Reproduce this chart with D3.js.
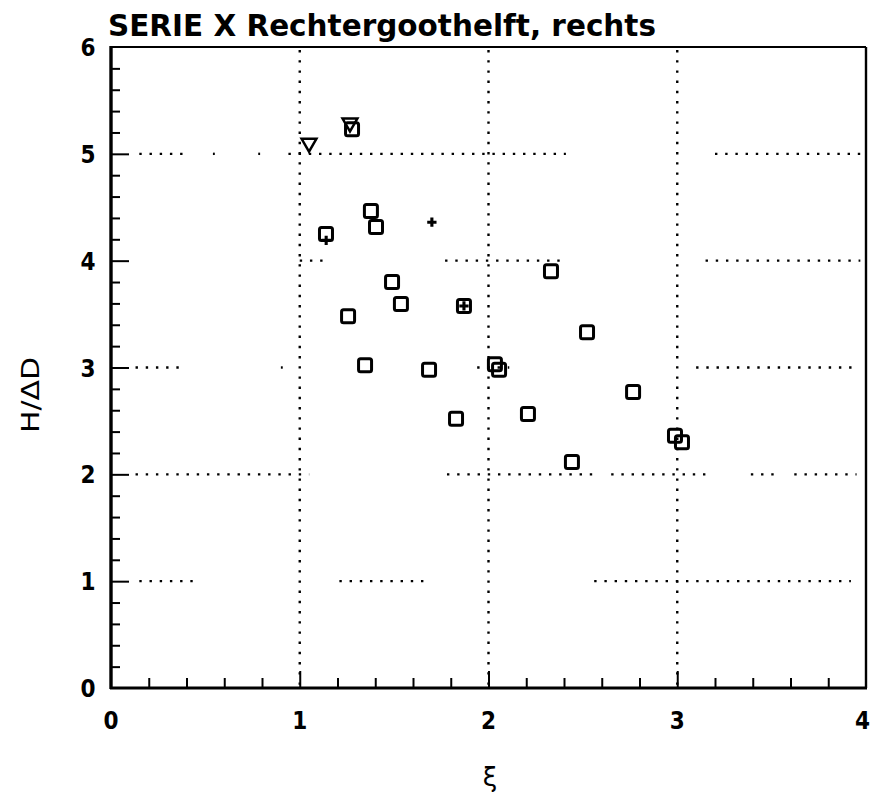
<!DOCTYPE html>
<html>
<head>
<meta charset="utf-8">
<script src="https://cdn.jsdelivr.net/npm/d3@7/dist/d3.min.js"></script>
<style>
  body { margin: 0; background: #fff; }
  svg { display: block; }
  text { fill: #000; font-family: "DejaVu Sans", sans-serif; }
</style>
</head>
<body>
<svg id="chart" width="871" height="797"></svg>
<script>
// Measurements: xi against H/ΔD
const squareX = [1.139, 1.377, 1.404, 1.277, 1.489, 1.536, 1.870, 1.256, 1.346, 1.685, 1.828,
                 2.331, 2.522, 2.034, 2.056, 2.209, 2.442, 2.766, 2.988, 3.025];
const squareY = [4.25, 4.465, 4.315, 5.23, 3.80, 3.595, 3.576, 3.48, 3.02, 2.98, 2.52,
                 3.90, 3.33, 3.03, 2.98, 2.565, 2.115, 2.77, 2.36, 2.30];
const triangleX = [1.049, 1.266];
const triangleY = [5.10, 5.29];
const plusX = [1.14, 1.70, 1.87];
const plusY = [4.19, 4.36, 3.576];

const xTicks = [0, 1, 2, 3, 4];
const yTicks = [0, 1, 2, 3, 4, 5, 6];

// Horizontal dotted grid pieces: [y, xFrom, xTo]
const hGrid = [
  [5, 0.15, 0.40], [5, 0.54, 0.55], [5, 0.78, 0.79], [5, 0.94, 2.41], [5, 3.20, 3.97],
  [4, 1.00, 1.15], [4, 1.77, 2.38], [4, 3.15, 3.97],
  [3, 0.13, 0.39], [3, 0.90, 0.91], [3, 1.94, 2.11], [3, 3.10, 3.95],
  [2, 0.13, 1.05], [2, 1.78, 2.56], [2, 2.65, 3.17], [2, 3.39, 3.52], [2, 3.62, 3.95],
  [1, 0.15, 0.45], [1, 1.21, 1.69], [1, 2.56, 3.92]
];
const vGrid = [1, 2, 3];

const title = "SERIE X Rechtergoothelft, rechts";
const xLabel = "ξ";
const yLabel = "H/ΔD";

const svg = d3.select("#chart");
const plotLeft = 111, plotRight = 866, plotTop = 47, plotBottom = 688;

const x = d3.scaleLinear().domain([0, 4]).range([plotLeft, plotRight]);
const y = d3.scaleLinear().domain([0, 6]).range([plotBottom, plotTop]);

// dotted grid
const grid = svg.append("g")
  .attr("stroke", "#000").attr("stroke-width", 2.4)
  .attr("stroke-dasharray", "2.4 7.8").attr("fill", "none");
grid.selectAll("line.v").data(vGrid).join("line")
  .attr("class", "v")
  .attr("x1", d => x(d)).attr("x2", d => x(d))
  .attr("y1", y(6) + 3).attr("y2", y(0));
grid.selectAll("line.h").data(hGrid).join("line")
  .attr("class", "h")
  .attr("x1", d => x(d[1])).attr("x2", d => x(d[2]))
  .attr("y1", d => y(d[0])).attr("y2", d => y(d[0]));

// axes with inward ticks
const xMinor = d3.range(0.2, 4, 0.2).filter(v => Math.abs(v - Math.round(v)) > 1e-6);
const yMinor = d3.range(0.2, 6, 0.2).filter(v => Math.abs(v - Math.round(v)) > 1e-6);

svg.append("g").attr("transform", `translate(0,${plotBottom})`)
  .call(d3.axisTop(x).tickValues(xMinor).tickSize(10).tickFormat(""))
  .call(g => g.select(".domain").remove())
  .selectAll("line").attr("stroke-width", 2);
svg.append("g").attr("transform", `translate(0,${plotBottom})`)
  .call(d3.axisTop(x).tickValues([1, 2, 3]).tickSize(17).tickFormat(""))
  .call(g => g.select(".domain").remove())
  .selectAll("line").attr("stroke-width", 2);

svg.append("g").attr("transform", `translate(${plotLeft},0)`)
  .call(d3.axisRight(y).tickValues(yMinor).tickSize(9).tickFormat(""))
  .call(g => g.select(".domain").remove())
  .selectAll("line").attr("stroke-width", 2);
svg.append("g").attr("transform", `translate(${plotLeft},0)`)
  .call(d3.axisRight(y).tickValues([1, 2, 3, 4, 5]).tickSize(18).tickFormat(""))
  .call(g => g.select(".domain").remove())
  .selectAll("line").attr("stroke-width", 2);

// frame
const frame = svg.append("g").attr("stroke", "#000").attr("fill", "none");
frame.append("line").attr("x1", plotLeft).attr("x2", plotRight).attr("y1", plotTop).attr("y2", plotTop).attr("stroke-width", 2);
frame.append("line").attr("x1", plotRight).attr("x2", plotRight).attr("y1", plotTop).attr("y2", plotBottom).attr("stroke-width", 2.4);
frame.append("line").attr("x1", plotLeft - 1).attr("x2", plotRight + 1).attr("y1", plotBottom).attr("y2", plotBottom).attr("stroke-width", 2.8);
frame.append("line").attr("x1", plotLeft).attr("x2", plotLeft).attr("y1", plotTop - 1).attr("y2", plotBottom + 1).attr("stroke-width", 3.4);

// tick labels (the last x label is kept inside the page edge)
const labelFont = g => g.attr("font-size", 24).attr("font-weight", "bold")
  .attr("font-stretch", "condensed");
svg.append("g").call(labelFont).selectAll("text").data(xTicks).join("text")
  .attr("text-anchor", d => d === 4 ? "end" : "middle")
  .attr("x", d => d === 4 ? Math.min(x(d) + 6, 870) : x(d))
  .attr("y", 729).text(d => d);
svg.append("g").call(labelFont).attr("text-anchor", "middle")
  .selectAll("text").data(yTicks).join("text")
  .attr("x", 88).attr("y", d => y(d) + 9).text(d => d);

// titles
svg.append("text").attr("x", 108).attr("y", 36)
  .attr("font-size", 30).attr("font-weight", 600)
  .attr("textLength", 548).attr("lengthAdjust", "spacingAndGlyphs")
  .text(title);
svg.append("text").attr("x", 490).attr("y", 786).attr("text-anchor", "middle")
  .attr("font-size", 26).text(xLabel);
svg.append("text").attr("transform", "translate(39,395) rotate(-90)")
  .attr("text-anchor", "middle").attr("font-size", 24)
  .attr("textLength", 76).attr("lengthAdjust", "spacingAndGlyphs")
  .text(yLabel);

// markers
const marks = svg.append("g").attr("stroke", "#000").attr("fill", "none");
const sq = 13;
marks.selectAll("rect").data(d3.range(squareX.length)).join("rect")
  .attr("x", i => x(squareX[i]) - sq / 2).attr("y", i => y(squareY[i]) - sq / 2)
  .attr("width", sq).attr("height", sq).attr("rx", 2)
  .attr("stroke-width", 3);

const tri = d3.symbol().type(d3.symbolTriangle).size(95);
marks.selectAll("path.tri").data(d3.range(triangleX.length)).join("path")
  .attr("class", "tri")
  .attr("d", tri)
  .attr("transform", i => `translate(${x(triangleX[i])},${y(triangleY[i])}) rotate(180)`)
  .attr("stroke-width", 2.5);

marks.selectAll("path.plus").data(d3.range(plusX.length)).join("path")
  .attr("class", "plus")
  .attr("d", d3.symbol().type(d3.symbolCross).size(48))
  .attr("transform", i => `translate(${x(plusX[i])},${y(plusY[i])})`)
  .attr("fill", "#000").attr("stroke", "none");
</script>
</body>
</html>
